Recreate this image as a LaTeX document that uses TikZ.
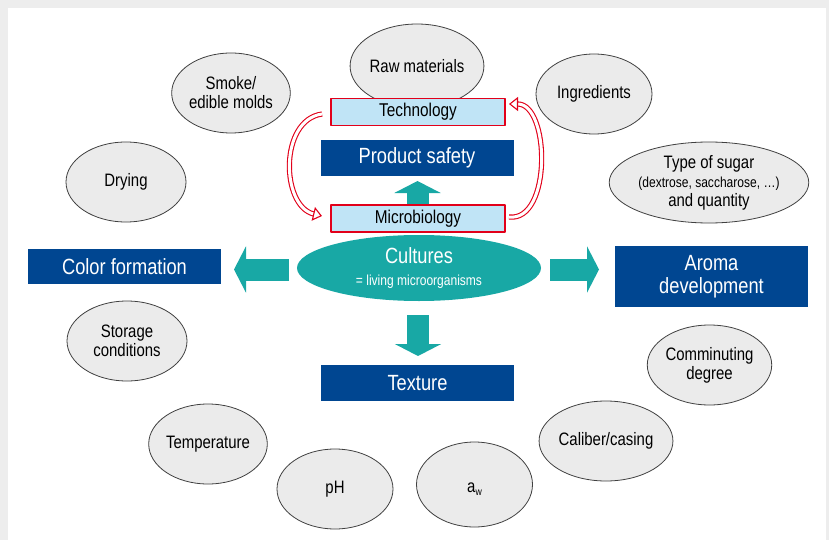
\documentclass[tikz,border=0pt]{standalone}
\usepackage{fontspec}
\setmainfont[FakeStretch=0.83]{Liberation Sans}
\usetikzlibrary{shapes.geometric,arrows.meta}
\definecolor{darkbar}{RGB}{0,70,145}
\definecolor{cultteal}{RGB}{24,168,165}
\definecolor{paleblue}{RGB}{192,228,246}
\definecolor{alertred}{RGB}{226,0,26}
\definecolor{ellfill}{RGB}{235,235,235}
\newcommand{\fs}[2]{\fontsize{#1}{#2}\selectfont}
\begin{document}
\begin{tikzpicture}[x=1pt,y=-1pt,line join=round,
    factor/.style={ellipse,draw=black!75,fill=ellfill,line width=0.8pt,inner sep=0pt,
      minimum width=116pt,minimum height=80pt,align=center,font=\fs{18}{19}},
    darkbox/.style={fill=darkbar,text=white,inner sep=0pt,minimum width=193pt,
      align=center,font=\fs{22}{23}},
    palebox/.style={draw=alertred,fill=paleblue,line width=1.6pt,inner sep=0pt,
      minimum width=174pt,minimum height=27pt,font=\fs{18.5}{20}},
    fatarrow/.style={draw=cultteal,line width=22pt,-{Triangle[length=12pt,width=46pt]}},
    swap/.style={draw=alertred,double=white,double distance=3pt,line width=1.1pt,
      -{Triangle[open,length=9pt,width=14pt]}}]
  \fill[black!7] (0,0) rectangle (829,540);
  \fill[white] (8,8) rectangle (826,540);
  % outer ring of factors
  \node[factor,minimum width=118pt,minimum height=84pt] (raw) at (417,66) {Raw materials};
  \node[factor] (smoke) at (231,93) {Smoke/\\edible molds};
  \node[factor] (ingr) at (594,94) {Ingredients};
  \node[factor,minimum width=120pt] (dry) at (126,182) {Drying};
  \node[factor,minimum width=163pt,minimum height=81pt] (sugar) at (709,182.5)
    {\fs{18}{19}\strut Type of sugar\\{\fs{14.5}{17}(dextrose, saccharose, \dots)}\\\fs{18}{18}and quantity};
  \node[factor,minimum width=120pt] (store) at (127,341) {Storage\\conditions};
  \node[factor] (comm) at (709.5,365) {Comminuting\\degree};
  \node[factor,minimum width=118pt] (temp) at (208,444) {Temperature};
  \node[factor] (cal) at (606,441) {Caliber/casing};
  \node[factor] (ph) at (335,489) {pH};
  \node[factor,minimum height=85pt,text height=16pt,text depth=0pt] (aw) at (474.5,484.5) {a\raisebox{-0.35ex}[0pt][0pt]{\fs{10.5}{11}w}};
  % centre
  \node[palebox] (tech) at (418,112) {Technology};
  \node[palebox] (micro) at (418,218.5) {Microbiology};
  \node[darkbox,minimum height=36pt] (safe) at (417,158) {Product safety};
  \node[darkbox,minimum height=35pt] (color) at (124.5,266.5) {Color formation};
  \node[darkbox,minimum height=61pt] (aroma) at (711.5,276.5) {\strut Aroma\\development};
  \node[darkbox,minimum height=36pt] (text) at (417.5,383) {Texture};
  \node[ellipse,fill=cultteal,text=white,inner sep=0pt,minimum width=244pt,minimum height=66pt,
    align=center] (cult) at (419,268) {\fs{22}{22}Cultures\\[-1pt]{\fs{14.5}{16}\rule{0pt}{22pt}= living microorganisms}};
  \coordinate (lt) at (289,269.5);   \coordinate (lh) at (234,269.5);
  \coordinate (rt) at (550,269.5);   \coordinate (rh) at (599,269.5);
  \coordinate (ut) at (417.5,204);   \coordinate (uh) at (417.5,181);
  \coordinate (dt) at (418,315);     \coordinate (dh) at (418,356);
  \draw[fatarrow] (lt) -- (lh);
  \draw[fatarrow] (rt) -- (rh);
  \draw[fatarrow] (ut) -- (uh);
  \draw[fatarrow] (dt) -- (dh);
  \coordinate (techL) at (322,114);
  \coordinate (micL) at (322,216);
  \coordinate (micR) at (509,217);
  \coordinate (techR) at (509,104);
  \draw[swap] (techL) .. controls (279,120) and (281,206) .. (micL);
  \draw[swap] (micR) .. controls (552,222) and (550,104) .. (techR);
\end{tikzpicture}
\end{document}
